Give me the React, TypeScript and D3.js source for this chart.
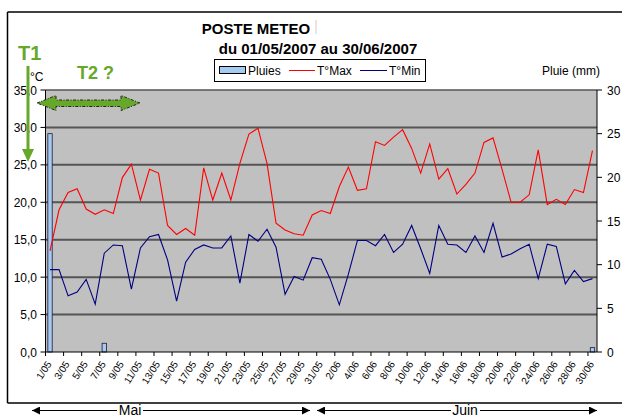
import React from 'react';
import * as d3 from 'd3';

const categories = [
  '1/05','2/05','3/05','4/05','5/05','6/05','7/05','8/05','9/05','10/05',
  '11/05','12/05','13/05','14/05','15/05','16/05','17/05','18/05','19/05','20/05',
  '21/05','22/05','23/05','24/05','25/05','26/05','27/05','28/05','29/05','30/05','31/05',
  '1/06','2/06','3/06','4/06','5/06','6/06','7/06','8/06','9/06','10/06',
  '11/06','12/06','13/06','14/06','15/06','16/06','17/06','18/06','19/06','20/06',
  '21/06','22/06','23/06','24/06','25/06','26/06','27/06','28/06','29/06','30/06',
];

const tMax = [
  13.5, 19.0, 21.3, 21.8, 19.1, 18.4, 19.0, 18.5, 23.3, 25.1,
  20.3, 24.4, 23.9, 16.9, 15.7, 16.5, 15.6, 24.6, 20.3, 23.9,
  20.3, 25.2, 29.1, 29.9, 25.2, 17.2, 16.3, 15.8, 15.6, 18.3, 18.9,
  18.5, 22.1, 24.7, 21.6, 21.8, 28.1, 27.6, 28.7, 29.7, 27.2,
  23.9, 27.8, 23.1, 24.5, 21.1, 22.4, 23.9, 28.0, 28.6, 24.4,
  20.0, 20.0, 21.0, 27.0, 19.7, 20.4, 19.7, 21.7, 21.3, 26.9,
];

const tMin = [
  11.0, 11.0, 7.5, 8.0, 9.7, 6.4, 13.2, 14.3, 14.2, 8.4,
  13.9, 15.4, 15.7, 12.3, 6.8, 12.0, 13.7, 14.3, 13.9, 13.9,
  15.5, 9.2, 15.7, 14.8, 16.4, 14.0, 7.7, 10.1, 9.6, 12.6, 12.4,
  9.7, 6.3, 10.4, 14.9, 14.9, 14.2, 15.7, 13.3, 14.4, 16.9,
  13.8, 10.5, 16.9, 14.4, 14.3, 13.3, 15.5, 13.3, 17.2, 12.7,
  13.1, 13.8, 14.4, 9.8, 14.4, 14.1, 9.1, 10.9, 9.4, 9.8,
];

const rain = [
  25, 0, 0, 0, 0, 0, 1, 0, 0, 0,
  0, 0, 0, 0, 0, 0, 0, 0, 0, 0,
  0, 0, 0, 0, 0, 0, 0, 0, 0, 0, 0,
  0, 0, 0, 0, 0, 0, 0, 0, 0, 0,
  0, 0, 0, 0, 0, 0, 0, 0, 0, 0,
  0, 0, 0, 0, 0, 0, 0, 0, 0, 0.5,
];

const leftTicks = [0, 5, 10, 15, 20, 25, 30, 35];
const rightTicks = [0, 5, 10, 15, 20, 25, 30];

const FONT = "'Liberation Sans', Arial, sans-serif";
const GREEN = '#66a82a';

export default function App() {
  const left = 45.5, right = 597, top = 90, bottom = 352;
  const x = d3.scaleBand<string>().domain(categories).range([left, right]).paddingInner(0).paddingOuter(0);
  const bw = x.bandwidth();
  const yT = d3.scaleLinear().domain([0, 35]).range([bottom, top]);
  const yR = d3.scaleLinear().domain([0, 30]).range([bottom, top]);
  const cx = (i: number) => (x(categories[i]) as number) + bw / 2;

  const line = d3.line<number>().x((_, i) => cx(i)).y((d) => yT(d));
  const fmt = (v: number) => d3.format('.1f')(v).replace('.', ',');

  const tickIdx = d3.range(0, categories.length + 1, 2);

  return (
    <svg width={622} height={418} style={{ position: 'absolute', left: 0, top: 0, fontFamily: FONT }}>
      <rect x={0} y={0} width={622} height={418} fill="#fff" />
      {/* outer frame */}
      <line x1={7.5} y1={12} x2={622} y2={12} stroke="#000" strokeWidth={1.5} />
      <line x1={7.5} y1={12} x2={7.5} y2={403} stroke="#000" strokeWidth={1.5} />
      <line x1={7.5} y1={403} x2={622} y2={403} stroke="#000" strokeWidth={1.5} />

      {/* titles */}
      <text x={256} y={34} fontSize={15} fontWeight="bold" textAnchor="middle">POSTE METEO</text>
      <line x1={316} y1={20} x2={316} y2={34} stroke="#ccc" strokeWidth={1} />
      <text x={318} y={54} fontSize={15} fontWeight="bold" textAnchor="middle">du 01/05/2007 au 30/06/2007</text>

      {/* legend */}
      <rect x={214.5} y={59.5} width={211} height={22} fill="#fff" stroke="#000" strokeWidth={1} />
      <rect x={219.5} y={66.5} width={26} height={7} fill="#a6caf0" stroke="#000" strokeWidth={1} />
      <text x={248} y={75} fontSize={12}>Pluies</text>
      <line x1={289} y1={70.5} x2={315} y2={70.5} stroke="#ff0000" strokeWidth={1} />
      <text x={317} y={75} fontSize={12}>T°Max</text>
      <line x1={360} y1={70.5} x2={387} y2={70.5} stroke="#000080" strokeWidth={1} />
      <text x={389} y={75} fontSize={12}>T°Min</text>

      <text x={600} y={75} fontSize={12} textAnchor="end">Pluie (mm)</text>

      {/* plot area */}
      <rect x={left} y={top} width={right - left} height={bottom - top} fill="#c0c0c0" />
      {leftTicks.filter((t) => t > 0).map((t) => (
        <line key={'g' + t} x1={left} x2={right} y1={yT(t)} y2={yT(t)} stroke="#555" strokeWidth={t === 35 ? 1.5 : 2} />
      ))}

      {/* rain bars */}
      {rain.map((r, i) =>
        r > 0 ? (
          <rect key={'b' + i} x={cx(i) - bw * 0.24} y={yR(r)} width={bw * 0.48} height={bottom - yR(r)} fill="#a6caf0" stroke="#1a1a3a" strokeWidth={0.8} />
        ) : null
      )}

      {/* lines */}
      <path d={line(tMax) || ''} fill="none" stroke="#ff0000" strokeWidth={1.1} />
      <path d={line(tMin) || ''} fill="none" stroke="#000080" strokeWidth={1.1} />

      {/* axes */}
      <line x1={left} y1={top} x2={left} y2={bottom} stroke="#000" strokeWidth={1} />
      <line x1={right} y1={top} x2={right} y2={bottom} stroke="#000" strokeWidth={1} />
      <line x1={left} y1={bottom} x2={right} y2={bottom} stroke="#000" strokeWidth={1} />
      {leftTicks.map((t) => (
        <g key={'l' + t}>
          <line x1={left - 5} x2={left} y1={yT(t)} y2={yT(t)} stroke="#000" />
          <text x={37} y={yT(t) + 4.5} fontSize={12} textAnchor="end">{fmt(t)}</text>
        </g>
      ))}
      {rightTicks.map((t) => (
        <g key={'r' + t}>
          <line x1={right} x2={right + 5} y1={yR(t)} y2={yR(t)} stroke="#000" />
          <text x={607} y={yR(t) + 4.5} fontSize={12}>{t}</text>
        </g>
      ))}
      {tickIdx.map((k) => {
        const xx = left + bw * k;
        return <line key={'t' + k} x1={xx} x2={xx} y1={bottom} y2={bottom + 4} stroke="#000" />;
      })}
      {categories.map((c, i) =>
        i % 2 === 0 ? (
          <text key={'c' + i} transform={`translate(${cx(i) + 2},${bottom + 12}) rotate(-57)`} fontSize={10} textAnchor="end">
            {c}
          </text>
        ) : null
      )}

      {/* month arrows */}
      <defs>
        <marker id="ah" viewBox="0 0 10 10" refX={10} refY={5} markerWidth={10} markerHeight={8} markerUnits="userSpaceOnUse" orient="auto-start-reverse">
          <path d="M0,0 L10,5 L0,10 z" fill="#000" />
        </marker>
      </defs>
      <line x1={32} y1={410.5} x2={117} y2={410.5} stroke="#000" strokeWidth={1} markerStart="url(#ah)" />
      <line x1={143} y1={410.5} x2={310} y2={410.5} stroke="#000" strokeWidth={1} markerEnd="url(#ah)" />
      <text x={130} y={414.5} fontSize={14} textAnchor="middle">Mai</text>
      <line x1={317} y1={410.5} x2={451} y2={410.5} stroke="#000" strokeWidth={1} markerStart="url(#ah)" />
      <line x1={480} y1={410.5} x2={597} y2={410.5} stroke="#000" strokeWidth={1} markerEnd="url(#ah)" />
      <text x={465} y={414.5} fontSize={14} textAnchor="middle">Juin</text>

      {/* annotations */}
      <text x={30} y={81} fontSize={12}>°C</text>
      <line x1={28} y1={66} x2={28} y2={150} stroke={GREEN} strokeWidth={3} />
      <path d="M22,149 L34,149 L28,162 z" fill={GREEN} />
      <text x={18} y={60} fontSize={20} fontWeight="bold" fill={GREEN}>T1</text>
      <text x={77} y={79} fontSize={18} fontWeight="bold" fill={GREEN}>T2 ?</text>
      <path
        d="M37,103 L56,95.5 L56,100 L121,100 L121,95.5 L140,103 L121,110.5 L121,106.5 L56,106.5 L56,110.5 Z"
        fill={GREEN}
        stroke="#222"
        strokeWidth={1}
        strokeDasharray="3,1.5,1,1.5"
      />
    </svg>
  );
}
